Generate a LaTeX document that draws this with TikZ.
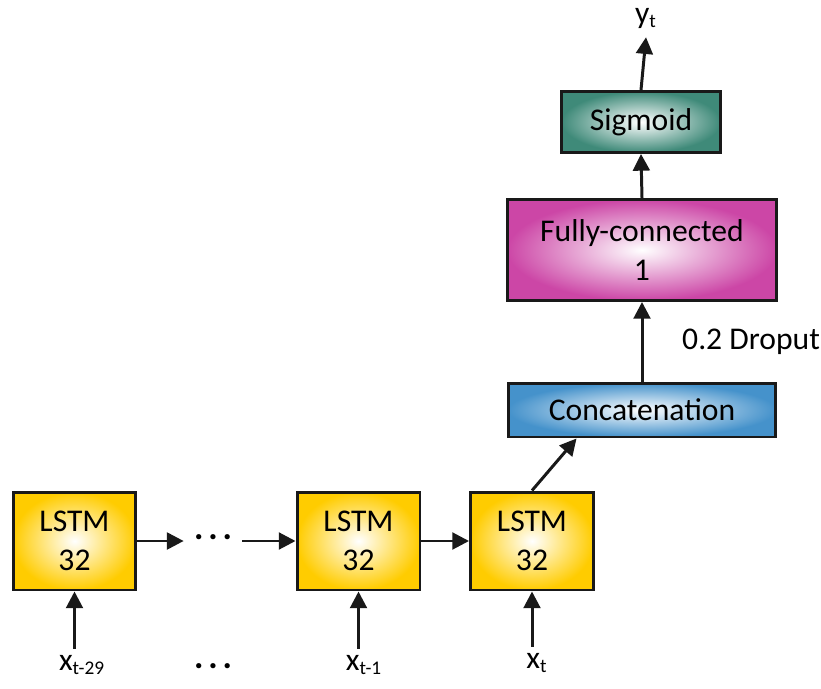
\documentclass[tikz,border=0pt]{standalone}
\usepackage{fontspec}
\setmainfont{Carlito}
\usepackage{tikz}
\usetikzlibrary{arrows.meta}

\definecolor{lstmgold}{HTML}{FFCC00}
\definecolor{concatblue}{HTML}{4592CB}
\definecolor{fcmagenta}{HTML}{CC46A6}
\definecolor{sigteal}{HTML}{3F8A79}

\newcommand{\skipdots}{\raisebox{0.22em}{\bfseries.\kern0.14em.\kern0.14em.}}
\newcommand{\stepsub}[1]{\textsubscript{\fontsize{11}{12}\selectfont #1}}

\begin{document}
\begin{tikzpicture}[x=0.02cm, y=-0.02cm,
        font=\fontsize{18}{22.5}\selectfont,
        block/.style={draw=black!90, line width=1.7pt, align=center, inner color=white},
        lstm/.style={block, outer color=lstmgold, minimum width=2.46cm, minimum height=1.96cm},
        arr/.style={-{Triangle[length=9.5pt,width=9.5pt]}, line width=1.7pt, black!90}]
            \useasboundingbox (0,0) rectangle (821,689);

            % LSTM cells along time
            \node[lstm] (lstmA) at (74.5,541) {LSTM\\32};
            \node[lstm] (lstmB) at (358.5,541) {LSTM\\32};
            \node[lstm] (lstmC) at (532,541) {LSTM\\32};
            \node[inner sep=0.2cm, font=\fontsize{20}{22}\selectfont] (dotsA) at (213,541) {\skipdots};

            % inputs
            \node (inA) at (82,665) {x\stepsub{t-29}};
            \node[font=\fontsize{20}{22}\selectfont] (dotsB) at (213,670) {\skipdots};
            \node (inB) at (364,665) {x\stepsub{t-1}};
            \node (inC) at (537,663) {x\stepsub{t}};

            % upper layers
            \node[block, outer color=concatblue, minimum width=5.36cm, minimum height=1.08cm] (concat) at (642,410) {Concatenation};
            \node[block, outer color=fcmagenta, minimum width=5.4cm, minimum height=2.02cm] (fc) at (642,250) {Fully-connected\\1};
            \node[block, outer color=sigteal, minimum width=3.18cm, minimum height=1.22cm] (sig) at (641,122) {Sigmoid};
            \node[inner sep=1pt] (out) at (646,18) {y\stepsub{t}};
            \node[anchor=west] (drop) at (676,342) {0.2 Droput};

            % connections
            \draw[arr] (lstmA.east) -- (dotsA.west |- lstmA.east);
            \draw[arr] (dotsA.east |- lstmB.west) -- (lstmB.west);
            \draw[arr] (lstmB.east) -- (lstmC.west);
            \draw[arr] (lstmA.south |- inA.north) -- (lstmA.south);
            \draw[arr] (lstmB.south |- inB.north) -- (lstmB.south);
            \draw[arr] (lstmC.south |- inC.north) -- (lstmC.south);
            \draw[arr] (lstmC.north) -- ([xshift=1.4cm]concat.south west);
            \draw[arr] (concat.north) -- (fc.south);
            \draw[arr] (fc.north) -- (sig.north |- sig.south);
            \draw[arr] (sig.north) -- ([yshift=-4pt]out.south);
\end{tikzpicture}
\end{document}
